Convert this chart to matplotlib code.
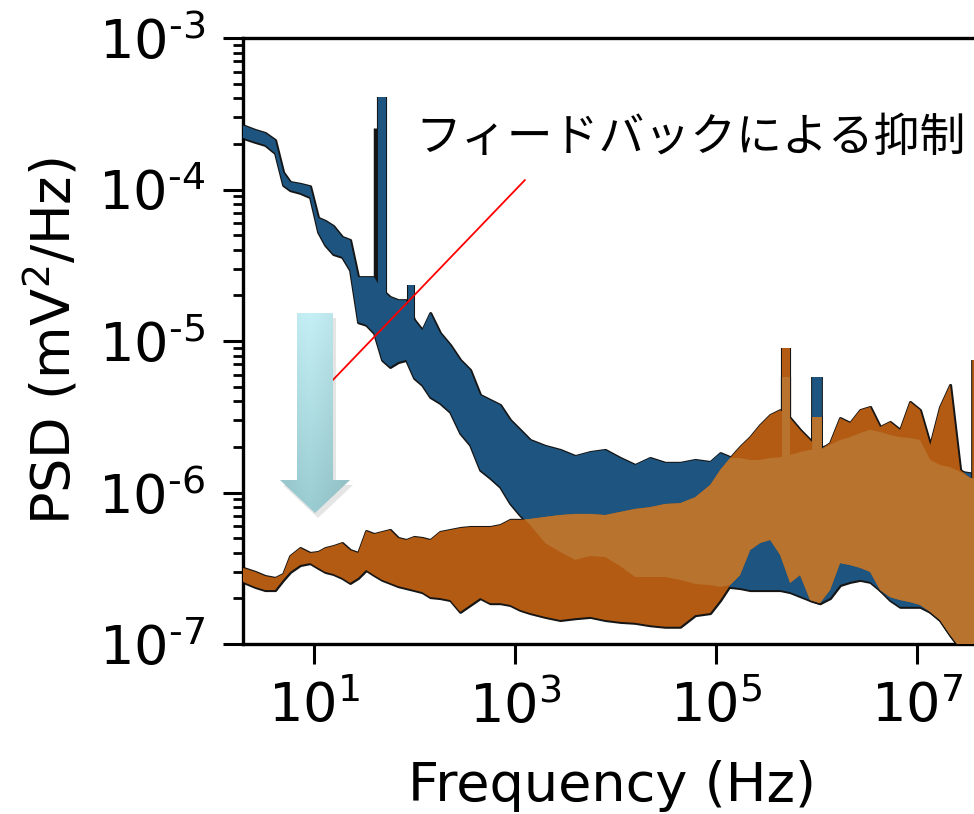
import numpy as np
import matplotlib

matplotlib.use("Agg")

import matplotlib.pyplot as plt
from matplotlib.patches import Polygon
from matplotlib.ticker import FuncFormatter, LogLocator, NullFormatter, NullLocator

plt.rcParams["font.family"] = ["DejaVu Sans"]

# frequency grid (Hz)
freq = np.array([
    1.96, 2.59, 3.25, 4.09, 4.92, 5.77, 7.26, 9.12, 10.96, 12.9, 15.5, 19.0,
    22.8, 27.4, 32.9, 39.5, 47.5, 57.0, 68.5, 82.3, 98.9, 119, 143, 179,
    226, 284, 357, 449, 564, 710, 892, 1120, 1410, 1990, 2810, 3960,
    5580, 7870, 1.11e4, 1.56e4, 2.20e4, 3.11e4, 4.39e4, 6.18e4, 8.72e4, 1.10e5,
    1.38e5, 1.73e5, 2.18e5, 2.74e5, 3.45e5, 4.34e5, 5.45e5, 6.85e5, 8.61e5, 1.08e6,
    1.36e6, 1.71e6, 2.15e6, 2.71e6, 3.41e6, 4.28e6, 5.38e6, 6.77e6, 8.51e6, 1.07e7,
    1.35e7, 1.69e7, 2.13e7, 2.68e7, 3.37e7, 4.24e7,
])

# without feedback (blue): upper / lower envelope of the noisy PSD (mV^2/Hz)
blue_hi = np.array([
    2.65e-4, 2.47e-4, 2.36e-4, 2.12e-4, 1.30e-4, 1.12e-4, 1.09e-4, 1.05e-4, 6.5e-5, 6.2e-5, 5.74e-5, 4.86e-5,
    4.64e-5, 2.64e-5, 2.64e-5, 2.64e-5, 2.17e-5, 1.95e-5, 1.86e-5, 1.86e-5, 1.38e-5, 1.18e-5, 1.53e-5, 1.13e-5,
    9.4e-6, 7.5e-6, 6.44e-6, 4.4e-6, 4.08e-6, 3.78e-6, 3.01e-6, 2.59e-6, 2.22e-6, 2.03e-6, 1.91e-6, 1.74e-6,
    1.85e-6, 1.91e-6, 1.69e-6, 1.52e-6, 1.69e-6, 1.57e-6, 1.57e-6, 1.64e-6, 1.59e-6, 1.82e-6,
    1.71e-6, 1.69e-6, 1.64e-6, 1.64e-6, 1.69e-6, 1.71e-6, 1.77e-6, 1.85e-6, 1.91e-6, 1.97e-6,
    2.06e-6, 2.22e-6, 2.32e-6, 2.47e-6, 2.59e-6, 2.51e-6, 2.4e-6, 2.32e-6, 2.29e-6, 2.22e-6,
    1.64e-6, 1.52e-6, 1.47e-6, 1.37e-6, 1.34e-6, 1.30e-6,
])
blue_lo = np.array([
    2.19e-4, 2.06e-4, 1.97e-4, 1.74e-4, 1.07e-4, 9.9e-5, 9.5e-5, 8.9e-5, 5.25e-5, 4.3e-5, 3.75e-5, 3.59e-5,
    2.94e-5, 1.33e-5, 1.28e-5, 1.13e-5, 7.5e-6, 6.74e-6, 7.26e-6, 7.5e-6, 5.7e-6, 5.13e-6, 4.27e-6, 3.9e-6,
    3.4e-6, 2.47e-6, 2.06e-6, 1.41e-6, 1.25e-6, 1.09e-6, 8.5e-7, 7.1e-7, 6.1e-7, 4.64e-7, 4.05e-7, 3.59e-7,
    3.81e-7, 3.75e-7, 3.27e-7, 2.77e-7, 2.77e-7, 2.77e-7, 2.65e-7, 2.49e-7, 2.45e-7, 2.38e-7,
    2.38e-7, 2.34e-7, 2.27e-7, 2.27e-7, 2.27e-7, 2.27e-7, 2.2e-7, 2.07e-7, 1.95e-7, 1.86e-7,
    2.01e-7, 2.45e-7, 2.57e-7, 2.65e-7, 2.57e-7, 2.27e-7, 1.95e-7, 1.76e-7, 1.76e-7, 1.76e-7,
    1.63e-7, 1.44e-7, 1.15e-7, 9.4e-8, 7.8e-8, 7.3e-8,
])

# with feedback (orange)
orange_hi = np.array([
    3.18e-7, 2.99e-7, 2.81e-7, 2.73e-7, 2.9e-7, 3.81e-7, 4.3e-7, 3.99e-7, 4.05e-7, 4.3e-7, 4.43e-7, 4.64e-7,
    4.17e-7, 3.99e-7, 5.57e-7, 5.32e-7, 5.49e-7, 5.66e-7, 5.01e-7, 4.86e-7, 5.09e-7, 5.01e-7, 4.86e-7, 5.49e-7,
    5.66e-7, 5.83e-7, 5.92e-7, 5.92e-7, 5.92e-7, 6.1e-7, 6.6e-7, 6.6e-7, 6.69e-7, 6.9e-7, 7.1e-7, 7.22e-7,
    7.22e-7, 7.1e-7, 7.44e-7, 7.79e-7, 8.0e-7, 8.4e-7, 8.5e-7, 9.3e-7, 1.12e-6, 1.41e-6,
    1.69e-6, 2.0e-6, 2.32e-6, 2.79e-6, 3.25e-6, 3.5e-6, 3.1e-6, 2.59e-6, 2.22e-6, 1.91e-6,
    2.12e-6, 3.1e-6, 2.88e-6, 3.5e-6, 3.67e-6, 2.71e-6, 2.92e-6, 2.59e-6, 3.96e-6, 3.5e-6,
    2.06e-6, 3.67e-6, 5.13e-6, 1.41e-6, 1.25e-6, 1.21e-6,
])
orange_lo = np.array([
    2.57e-7, 2.38e-7, 2.27e-7, 2.27e-7, 2.65e-7, 2.99e-7, 3.32e-7, 3.42e-7, 3.18e-7, 2.99e-7, 2.9e-7, 2.73e-7,
    2.53e-7, 2.73e-7, 3.08e-7, 2.85e-7, 2.65e-7, 2.53e-7, 2.41e-7, 2.34e-7, 2.27e-7, 2.2e-7, 2.04e-7, 2.01e-7,
    1.95e-7, 1.63e-7, 1.81e-7, 2.01e-7, 1.86e-7, 1.86e-7, 1.81e-7, 1.68e-7, 1.60e-7, 1.51e-7, 1.44e-7, 1.48e-7,
    1.51e-7, 1.44e-7, 1.40e-7, 1.38e-7, 1.33e-7, 1.30e-7, 1.30e-7, 1.55e-7, 1.60e-7, 1.95e-7,
    2.45e-7, 2.85e-7, 4.17e-7, 4.64e-7, 4.86e-7, 3.87e-7, 2.53e-7, 2.85e-7, 1.95e-7, 1.86e-7,
    2.27e-7, 3.42e-7, 3.32e-7, 3.18e-7, 2.99e-7, 2.27e-7, 2.04e-7, 1.95e-7, 1.89e-7, 1.81e-7,
    1.63e-7, 1.44e-7, 1.15e-7, 9.4e-8, 7.8e-8, 7.3e-8,
])

# narrow spectral lines sticking out of the bands
blue_spike_f = [40.5, 47.0, 93.0, 5.0e5, 1.0e6]
blue_spike_top = [2.55e-4, 4.1e-4, 2.34e-5, 5.8e-6, 5.8e-6]
orange_spike_f = [5.0e5, 1.0e6, 3.7e7]
orange_spike_top = [9.0e-6, 3.15e-6, 7.5e-6]

BLUE = "#1d5580"
ORANGE = "#b35b12"
LIGHT = "#b8742f"
EDGE = "#151515"


def band_level(f_list, values):
    # band value at the spike position
    return 10 ** np.interp(np.log10(f_list), np.log10(freq), np.log10(values))


fig = plt.figure(figsize=(9.74, 8.14), dpi=100)
# the right part of the axes runs off the figure, as in the original slide
ax = fig.add_axes([243 / 974, 170 / 814, 774.6 / 974, 606 / 814])
ax.set_xscale("log")
ax.set_yscale("log")

blue_base = band_level(blue_spike_f, blue_hi) * 0.85
orange_base = band_level(orange_spike_f, orange_hi) * 0.85
blue_w = [1.0, 5.8, 4.3, 5.8, 7.0]
orange_w = [5.8, 7.0, 2.6]

# outline layer first, plain fills on top so only the outer edge stays visible
ax.fill_between(freq, blue_lo, blue_hi, facecolor=BLUE, edgecolor=EDGE, lw=2.2, zorder=1)
ax.fill_between(freq, orange_lo, orange_hi, facecolor=ORANGE, edgecolor=EDGE, lw=2.2, zorder=1)
ax.vlines(blue_spike_f, blue_base, blue_spike_top, color=EDGE, lw=[w + 1.5 for w in blue_w], zorder=1)
ax.vlines(blue_spike_f[1:], blue_base[1:], blue_spike_top[1:], color=BLUE, lw=blue_w[1:], zorder=2)

ax.fill_between(freq, blue_lo, blue_hi, facecolor=BLUE, lw=0, zorder=3)
ax.vlines(orange_spike_f, orange_base, orange_spike_top, color=EDGE,
          lw=[w + 1.5 for w in orange_w], zorder=3)
ax.fill_between(freq, orange_lo, orange_hi, facecolor=ORANGE, lw=0, zorder=4)
ax.vlines(orange_spike_f, orange_base, orange_spike_top, color=ORANGE, lw=orange_w, zorder=4)

# where the two spectra overlap the colour is lighter
over_lo = np.maximum(blue_lo, orange_lo)
over_hi = np.minimum(blue_hi, orange_hi)
ax.fill_between(freq, over_lo, over_hi, where=over_hi > over_lo, interpolate=True,
                facecolor=LIGHT, lw=0, zorder=5)
shared = [f for f in orange_spike_f if f in blue_spike_f]
shared_top = [min(blue_spike_top[blue_spike_f.index(f)], orange_spike_top[orange_spike_f.index(f)])
              for f in shared]
ax.vlines(shared, band_level(shared, blue_hi) * 0.85, shared_top, color=LIGHT, lw=[5.8, 7.0], zorder=5)

ax.set_xlim(1.96, 1e8)
ax.set_ylim(1e-7, 1e-3)

ax.set_xticks([1e1, 1e3, 1e5, 1e7])
ax.xaxis.set_minor_locator(NullLocator())
ax.xaxis.set_major_formatter(FuncFormatter(lambda v, p: r"$\mathdefault{10^{%d}}$" % round(np.log10(v))))
ax.yaxis.set_major_locator(LogLocator(base=10))
ax.yaxis.set_minor_locator(LogLocator(base=10, subs=np.arange(2, 10)))
ax.yaxis.set_major_formatter(
    FuncFormatter(lambda v, p: r"$\mathdefault{10^{\text{-}%d}}$" % round(-np.log10(v))))
ax.yaxis.set_minor_formatter(NullFormatter())

ax.tick_params(which="major", direction="out", length=14.5, width=2.2, labelsize=39, pad=13)
ax.tick_params(which="minor", direction="out", length=7, width=2.0)
ax.tick_params(axis="x", pad=12)
for side in ["left", "bottom", "top", "right"]:
    ax.spines[side].set_linewidth(2.4)

ax.set_xlabel("Frequency (Hz)", fontsize=39, labelpad=19)
ax.xaxis.label.set_x(0.476)
ax.set_ylabel("PSD (mV$^2$/Hz)", fontsize=39, labelpad=12)

# annotation
ax.annotate("", xy=(0.1123, 0.4307), xytext=(0.364, 0.7657),
            xycoords="axes fraction", textcoords="axes fraction",
            arrowprops=dict(arrowstyle="-", color="red", lw=1.3, shrinkA=0, shrinkB=0), zorder=6)
ax.text(0.222, 0.835, "フィードバックによる抑制", transform=ax.transAxes, fontsize=33,
        family=["Noto Sans CJK JP", "DejaVu Sans"], va="center", ha="left", zorder=6)

# big pale-cyan arrow pointing down (drawn in its own small axes, pixel units)
aax = fig.add_axes([272 / 974, (814 - 528) / 814, 88 / 974, 222 / 814])
aax.set_xlim(272, 360)
aax.set_ylim(528, 306)
aax.axis("off")
arrow_xy = [(297, 313), (333, 313), (333, 480), (350, 480), (315, 513), (280, 480), (297, 480)]
shadow = Polygon([(x + 3, y + 5) for x, y in arrow_xy], closed=True, facecolor="#000000",
                 alpha=0.10, lw=0)
aax.add_patch(shadow)
u = np.linspace(0, 1, 80)
v = np.linspace(0, 1, 200)
uu, vv = np.meshgrid(u, v)
top_rgb = np.array([0.77, 0.94, 0.96])
bot_rgb = np.array([0.60, 0.80, 0.82])
grad = top_rgb * (1 - vv[..., None]) + bot_rgb * vv[..., None]
grad = grad * (1 - 0.16 * np.abs(uu - 0.42)[..., None] ** 1.2)
grad = np.clip(grad, 0, 1)
arrow_patch = Polygon(arrow_xy, closed=True, facecolor="none", edgecolor="none")
aax.add_patch(arrow_patch)
img = aax.imshow(grad, extent=(280, 350, 513, 313), aspect="auto", interpolation="bilinear", zorder=2)
img.set_clip_path(arrow_patch)

fig.savefig("out.png", dpi=100)
